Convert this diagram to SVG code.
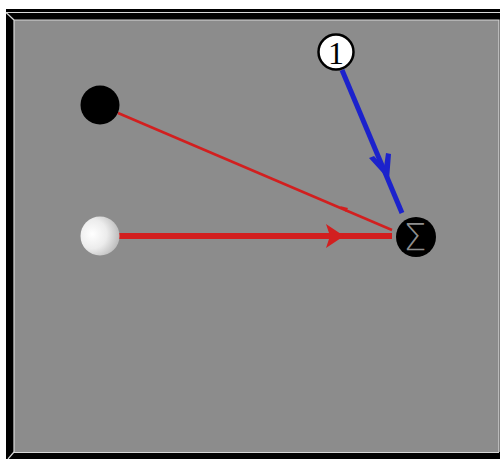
<svg xmlns="http://www.w3.org/2000/svg" width="500" height="459" viewBox="0 0 500 459">
<defs>
<radialGradient id="sph" cx="0.3" cy="0.45" r="0.75">
<stop offset="0" stop-color="#ffffff"/>
<stop offset="0.5" stop-color="#ececec"/>
<stop offset="1" stop-color="#b5b5b5"/>
</radialGradient>
<style>
.lt{stroke:#d8d8d8;stroke-width:1.2;fill:none}
</style>
</defs>
<rect width="500" height="459" fill="#ffffff"/>
<rect x="6" y="9" width="494" height="450" fill="#000"/>
<line x1="6" y1="12.5" x2="500" y2="12.5" class="lt"/>
<rect x="14" y="20" width="485" height="432" fill="#8c8c8c"/>
<polyline points="14,452.5 499,452.5" class="lt"/>
<polyline points="14,452 14,20 499,20 499,452" class="lt"/>
<line x1="6" y1="12.5" x2="14" y2="20" class="lt"/>
<line x1="14" y1="452" x2="8" y2="459" class="lt"/>
<g id="connectors">
<line x1="118" y1="113" x2="392" y2="230" stroke="#d21f1f" stroke-width="2.5"/>
<polygon points="340,206 348,208 346,212" fill="#d21f1f"/>
<line x1="119" y1="236" x2="392" y2="236" stroke="#d21f1f" stroke-width="6"/>
<polygon points="326,224 344,236 326,248 330,236" fill="#d21f1f"/>
<line x1="342" y1="70" x2="402" y2="213" stroke="#1c22cc" stroke-width="5"/>
<polygon points="369,158 374,156 384,167 386,153 391,154 389,180" fill="#1c22cc"/>
</g>
<g id="n1"><circle cx="100" cy="105" r="19.5" fill="#000"/></g>
<g id="n2"><circle cx="100" cy="236" r="19.5" fill="url(#sph)"/></g>
<g id="sum"><circle cx="416" cy="237" r="20" fill="#000"/>
<text x="415" y="250" font-family="DejaVu Sans, sans-serif" font-weight="200" font-size="37" fill="#8e8e8e" text-anchor="middle">Σ</text></g>
<g id="one"><circle cx="336" cy="52" r="17.5" fill="#fff" stroke="#000" stroke-width="2.5"/>
<text x="336" y="64" font-family="Liberation Serif, serif" font-size="32" fill="#000" text-anchor="middle">1</text></g>
</svg>
